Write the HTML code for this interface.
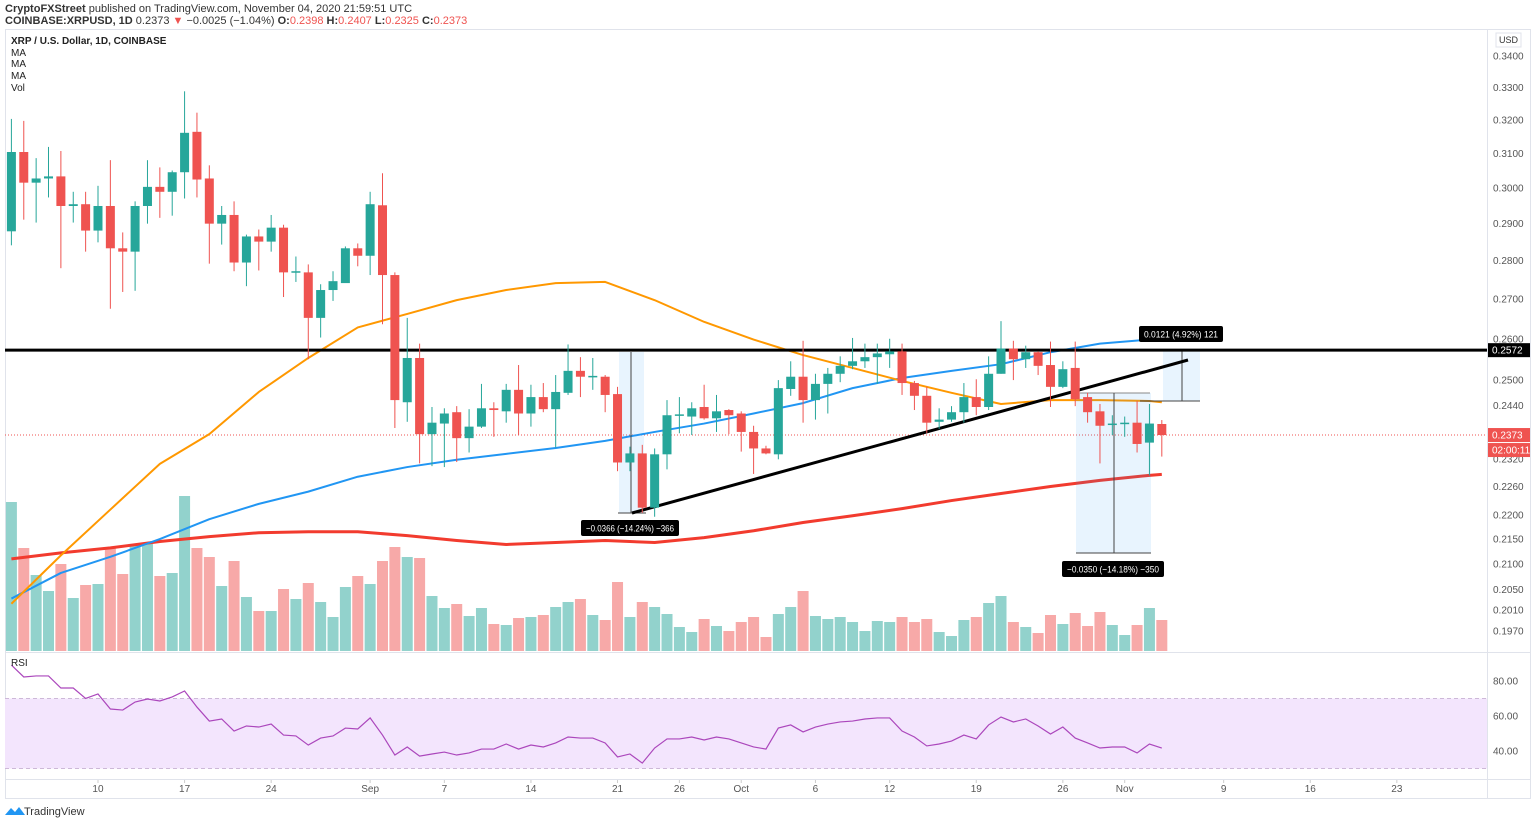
<!DOCTYPE html>
<html><head><meta charset="utf-8"><style>
html,body{margin:0;padding:0;background:#fff;}
svg{display:block;font-family:"Liberation Sans",sans-serif;}
</style></head><body>
<svg id="c" width="1536" height="824" viewBox="0 0 1536 824" xmlns="http://www.w3.org/2000/svg">
<text x="5" y="12" font-size="11" fill="#333"><tspan font-weight="bold">CryptoFXStreet</tspan> published on TradingView.com, November 04, 2020 21:59:51 UTC</text>
<text x="5" y="24" font-size="11" fill="#333"><tspan font-weight="bold">COINBASE:XRPUSD, 1D</tspan> 0.2373 <tspan fill="#ef5350">▼</tspan> −0.0025 (−1.04%) <tspan font-weight="bold">O:</tspan><tspan fill="#ef5350">0.2398</tspan> <tspan font-weight="bold">H:</tspan><tspan fill="#ef5350">0.2407</tspan> <tspan font-weight="bold">L:</tspan><tspan fill="#ef5350">0.2325</tspan> <tspan font-weight="bold">C:</tspan><tspan fill="#ef5350">0.2373</tspan></text>
<rect x="5.5" y="29.5" width="1525" height="769" fill="none" stroke="#e0e3eb"/>
<line x1="1487.5" y1="30" x2="1487.5" y2="798" stroke="#e0e3eb"/>
<line x1="5" y1="652.5" x2="1530" y2="652.5" stroke="#e0e3eb"/>
<line x1="5" y1="779.5" x2="1530" y2="779.5" stroke="#e0e3eb"/>
<g id="rsiBand"></g>
<g id="vol"></g>
<g id="ma"></g>
<g id="draw"></g>
<g id="candles"></g>
<g id="labels"></g>
<g id="axes"></g>
<text x="11" y="44" font-size="10" font-weight="bold" fill="#222">XRP / U.S. Dollar, 1D, COINBASE</text>
<text x="11" y="56" font-size="10" fill="#222">MA</text>
<text x="11" y="67" font-size="10" fill="#222">MA</text>
<text x="11" y="79" font-size="10" fill="#222">MA</text>
<text x="11" y="91" font-size="10" fill="#222">Vol</text>
<text x="11" y="666" font-size="10" fill="#222">RSI</text>
<rect x="1496" y="33" width="25" height="14" fill="#fff" stroke="#e0e3eb"/>
<text x="1508.5" y="43" font-size="9" fill="#333" text-anchor="middle">USD</text>
<g><path d="M5 815 l6 -7 l4 4 l4 -5 l6 8 z" fill="#2196f3"/><text x="24" y="815" font-size="11" fill="#333">TradingView</text></g>
<script>
const opens=[.2879,.3104,.3015,.3027,.3033,.2949,.2954,.2881,.2949,.2833,.2824,.2949,.3003,.2989,.3045,.3164,.3027,.2900,.2924,.2795,.2865,.2851,.2889,.2769,.2769,.2652,.2723,.2741,.2833,.2813,.2951,.2762,.2448,.2553,.2375,.2399,.2425,.2366,.2392,.2434,.2427,.2477,.2422,.2460,.2432,.2470,.2522,.2508,.2508,.2467,.2312,.2332,.2215,.2330,.2418,.2415,.2437,.2411,.2430,.2422,.2380,.2343,.2330,.2479,.2508,.2453,.2491,.2515,.2534,.2545,.2555,.2562,.2569,.2493,.2463,.2403,.2408,.2425,.2460,.2437,.2515,.2576,.2550,.2567,.2536,.2484,.2529,.2460,.2427,.2396,.2399,.2401,.2356,.2398];
const highs=[.3203,.3197,.3086,.3119,.3107,.2989,.2989,.3006,.3080,.2876,.2962,.3080,.3059,.3050,.3288,.3222,.3065,.2949,.2962,.2870,.2884,.2924,.2897,.2811,.2790,.2738,.2772,.2838,.2846,.2989,.3042,.2769,.2652,.2588,.2437,.2434,.2439,.2432,.2491,.2448,.2491,.2536,.2489,.2493,.2512,.2586,.2555,.2553,.2512,.2484,.2347,.2351,.2343,.2453,.2460,.2448,.2489,.2465,.2432,.2427,.2394,.2349,.2500,.2545,.2595,.2515,.2529,.2557,.2602,.2588,.2588,.2600,.2588,.2498,.2484,.2434,.2439,.2493,.2502,.2557,.2644,.2595,.2583,.2569,.2593,.2545,.2593,.2470,.2444,.2418,.2415,.2451,.2444,.2407];
const lows=[.2841,.2911,.2903,.2973,.2780,.2903,.2824,.2849,.2675,.2718,.2721,.2900,.2916,.2922,.2970,.2973,.2792,.2843,.2772,.2733,.2774,.2824,.2705,.2744,.2550,.2603,.2695,.2749,.2785,.2762,.2636,.2389,.2403,.2310,.2304,.2302,.2313,.2334,.2389,.2369,.2401,.2373,.2392,.2425,.2345,.2465,.2460,.2477,.2425,.2293,.2293,.2204,.2196,.2297,.2377,.2373,.2408,.2380,.2375,.2336,.2287,.2330,.2319,.2463,.2401,.2408,.2422,.2495,.2526,.2529,.2491,.2529,.2465,.2430,.2377,.2387,.2403,.2401,.2418,.2430,.2515,.2500,.2529,.2512,.2437,.2481,.2439,.2401,.2310,.2373,.2369,.2334,.2284,.2325];
const closes=[.3104,.3015,.3027,.3033,.2949,.2954,.2881,.2949,.2833,.2824,.2949,.3003,.2989,.3045,.3161,.3024,.2900,.2924,.2795,.2865,.2851,.2889,.2769,.2772,.2652,.2723,.2746,.2833,.2813,.2954,.2762,.2453,.2553,.2375,.2401,.2422,.2366,.2392,.2434,.2430,.2477,.2422,.2460,.2432,.2472,.2522,.2508,.2510,.2465,.2312,.2332,.2215,.2330,.2418,.2420,.2434,.2411,.2427,.2418,.2380,.2343,.2332,.2481,.2508,.2453,.2491,.2515,.2534,.2545,.2555,.2564,.2569,.2493,.2463,.2401,.2408,.2425,.2460,.2437,.2515,.2576,.2550,.2567,.2534,.2484,.2526,.2455,.2425,.2394,.2399,.2401,.2353,.2399,.2373];
const volumes=[298,206,152,120,174,106,132,134,208,154,212,214,150,156,310,206,188,130,180,108,80,80,124,104,136,98,68,128,150,134,180,208,188,186,110,86,94,70,86,54,52,66,68,72,88,98,104,72,62,138,68,98,88,74,48,38,64,50,40,58,68,28,74,88,120,70,64,68,58,40,60,58,68,58,64,38,30,62,68,96,110,58,48,36,72,54,76,50,78,52,32,52,86,62];
const rsi=[89.1,82.3,82.9,82.9,76,76,70,72.6,64,63.4,68,69.7,68.6,70.9,74.3,65.1,57.1,58.3,51.4,54.3,53.7,55.4,49.1,48.6,43.4,47.4,48.6,53.1,52.6,58.9,49.1,37.7,42.3,37.1,38.3,39.4,37.7,38.9,41.1,41.1,44,41.1,43.4,42.3,44.6,48,47.4,47.4,44.6,36.6,38.3,33.1,41.7,46.9,46.9,48,46.3,48,46.9,44.6,42.3,41.1,53.1,54.9,50.9,53.7,55.4,56.6,57.1,58.3,58.9,58.9,51.4,48,42.9,44,45.7,49.1,46.9,54.9,59.4,56.6,58.3,54.3,49.7,53.7,47.4,44.6,41.7,42.3,42.3,38.9,44,41.7];
const maDays=[0,4,8,12,16,20,24,28,32,36,40,44,48,52,56,60,64,68,72,76,80,84,88,92,93];
const maBlue=[.2032,.2082,.2114,.2150,.2191,.2223,.2249,.2281,.2302,.2318,.2331,.2344,.2360,.2380,.2399,.2422,.2446,.2481,.2505,.2522,.2538,.2567,.2588,.2598,.2598];
const maOrange=[.2022,.2117,.2211,.2309,.2375,.2472,.2553,.2628,.2662,.2697,.2723,.2741,.2744,.2697,.2642,.2598,.2560,.2529,.2498,.2470,.2444,.2453,.2453,.2451,.2448];
const maRed=[.2110,.2122,.2132,.2145,.2155,.2163,.2165,.2165,.2157,.2147,.2139,.2143,.2147,.2143,.2153,.2167,.2184,.2198,.2213,.2230,.2245,.2260,.2273,.2284,.2286];
const priceTicks=[0.34,0.33,0.32,0.31,0.30,0.29,0.28,0.27,0.26,0.25,0.244,0.232,0.226,0.22,0.215,0.21,0.205,0.201,0.197];
const rsiTicks=[80,60,40];
const timeLabels=["10","17","24","Sep","7","14","21","26","Oct","6","12","19","26","Nov","9","16","23"];
const timeDays=[7,14,21,29,35,42,49,54,59,65,71,78,85,90,98,105,112];
const levelPrice=0.2572, lastPrice=0.2373;

const NS="http://www.w3.org/2000/svg";
const X=d=>11.4+12.37*d;
const Y=p=>56+(Math.log(0.34)-Math.log(p))*1054;
const VY=v=>651-v*0.5;
const RY=v=>681+(80-v)*1.75;
function mk(parent,tag,attrs){const e=document.createElementNS(NS,tag);for(const k in attrs)e.setAttribute(k,attrs[k]);document.getElementById(parent).appendChild(e);return e;}
const G="#26a69a",R="#ef5350";

let e=mk('rsiBand','rect',{x:5,y:RY(70),width:1482,height:RY(30)-RY(70),fill:'#f3e5fd'});


[70,30].forEach(v=>{let l=mk('rsiBand','line',{x1:5,x2:1487,y1:RY(v),y2:RY(v),stroke:'#cdb8d8','stroke-dasharray':'4 3'});

});
let rp=rsi.map((v,i)=>X(i)+','+RY(v)).join(' ');
e=mk('rsiBand','polyline',{points:rp,fill:'none',stroke:'#ab47bc','stroke-width':1.2});



volumes.forEach((v,i)=>{const up=closes[i]>=opens[i];
let b=mk('vol','rect',{x:X(i)-5.5,y:VY(v),width:11,height:651-VY(v),fill:up?'#92d2cc':'#f7a9a8'});

});

e=mk('ma','line',{x1:5,x2:1487,y1:Y(lastPrice),y2:Y(lastPrice),stroke:'#ef5350','stroke-dasharray':'1 2','stroke-width':1});



function maLine(arr,color,w,name){const pts=arr.map((v,i)=>X(maDays[i])+','+Y(v)).join(' ');
let l=mk('ma','polyline',{points:pts,fill:'none',stroke:color,'stroke-width':w,'stroke-linejoin':'round'});

}
maLine(maRed,'#f23b2e',3,'ma-200-line');
maLine(maBlue,'#2196f3',2,'ma-50-line');
maLine(maOrange,'#ff9800',2,'ma-100-line');

function ln(x1,y1,x2,y2,st,w,name){let l=mk('draw','line',{x1,y1,x2,y2,stroke:st,'stroke-width':w});

return l;}
function box(x,y,w,h,name){let r=mk('draw','rect',{x,y,width:w,height:h,fill:'#2196f3','fill-opacity':0.1});

}
function label(cx,cy,w,txt,name){let r=mk('labels','rect',{x:cx-w/2,y:cy-8,width:w,height:16,rx:2,fill:'#000'});


let t=mk('labels','text',{x:cx,y:cy+3.5,'font-size':9.5,fill:'#fff','text-anchor':'middle',textLength:w-10,lengthAdjust:'spacingAndGlyphs'});t.textContent=txt;

}
box(619,352,25,161,'measure-box-1');
ln(631,352,631,513,'#444',1,'measure-arrow-1');
ln(618,513,646,513,'#444',1,'measure-base-1');
label(630,528,98,'−0.0366 (−14.24%) −366','measure-label-1');
box(1076,393,75,160,'measure-box-2');
ln(1080,393,1150,393,'#888',1,'measure-top-2');
ln(1114,393,1114,553,'#444',1,'measure-arrow-2');
ln(1076,553,1151,553,'#444',1,'measure-base-2');
label(1113,569,102,'−0.0350 (−14.18%) −350','measure-label-2');
box(1163,350,37,51,'measure-box-3');
ln(1182,350,1182,401,'#444',1,'measure-arrow-3');
ln(1140,401,1200,401,'#444',1,'measure-base-3');
label(1181,334,84,'0.0121 (4.92%) 121','measure-label-3');
ln(5,Y(levelPrice),1487,Y(levelPrice),'#000',3,'resistance-line');
ln(632,513,1188,360,'#000',3,'ascending-trendline');

opens.forEach((o,i)=>{const c=closes[i],up=c>=o,col=up?G:R,x=X(i);
let w=mk('candles','line',{x1:x,x2:x,y1:Y(highs[i]),y2:Y(lows[i]),stroke:col,'stroke-width':1});


const t=Math.min(Y(o),Y(c)),h=Math.max(1.5,Math.abs(Y(o)-Y(c)));
let b=mk('candles','rect',{x:x-4.5,y:t,width:9,height:h,fill:col});

});

priceTicks.forEach(p=>{let t=mk('axes','text',{x:1493,y:Y(p)+3.5,'font-size':10,fill:'#555'});t.textContent=p.toFixed(4);

});
rsiTicks.forEach(v=>{let t=mk('axes','text',{x:1493,y:RY(v)+3.5,'font-size':10,fill:'#555'});t.textContent=v.toFixed(2);

});
timeLabels.forEach((s,i)=>{const x=X(timeDays[i]);
let k=mk('axes','line',{x1:x,x2:x,y1:780,y2:783,stroke:'#ccc'});


let t=mk('axes','text',{x:x,y:792,'font-size':10,fill:'#555','text-anchor':'middle'});t.textContent=s;

});
function tag(y,bg,txt,name){let r=mk('axes','rect',{x:1488,y:y-7,width:42,height:14,fill:bg});


let t=mk('axes','text',{x:1492,y:y+3.5,'font-size':10,fill:'#fff'});t.textContent=txt;

}
tag(Y(levelPrice),'#000',levelPrice.toFixed(4),'level-price-tag');
tag(Y(lastPrice),'#ef5350',lastPrice.toFixed(4),'last-price-tag');
tag(Y(lastPrice)+15,'#ef5350','02:00:11','countdown-tag');
</script>
</svg>
</body></html>
